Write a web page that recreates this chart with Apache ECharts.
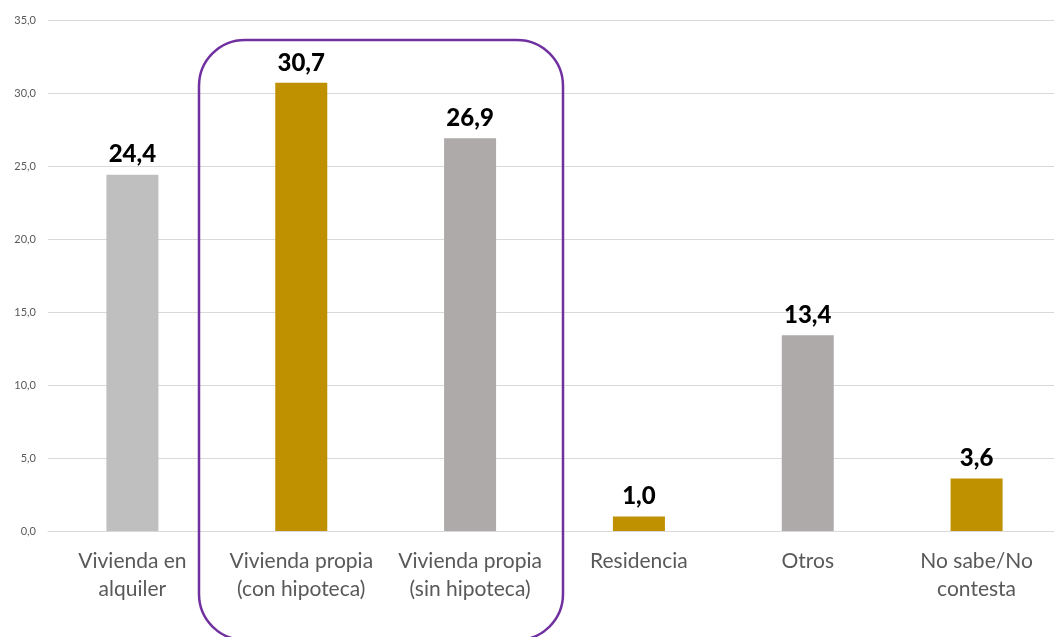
<!DOCTYPE html>
<html>
<head>
<meta charset="utf-8">
<script src="https://cdn.jsdelivr.net/npm/echarts@6/dist/echarts.min.js"></script>
<style>
  html, body { margin: 0; padding: 0; background: #fff; }
  #chart { width: 1054px; height: 637px; }
</style>
</head>
<body>
<div id="chart"></div>
<script>
const categories = [
    'Vivienda en\nalquiler',
    'Vivienda propia\n(con hipoteca)',
    'Vivienda propia\n(sin hipoteca)',
    'Residencia',
    'Otros',
    'No sabe/No\ncontesta'
];
const values = [24.4, 30.7, 26.9, 1.0, 13.4, 3.6];
const barColors = ['#bfbfbf', '#bf9000', '#aeaaaa', '#bf9000', '#aeaaaa', '#bf9000'];

const fmt = v => v.toFixed(1).replace('.', ',');

let chart = echarts.init(document.getElementById('chart'));

chart.setOption({
    animation: false,
    textStyle: { fontFamily: 'Lato' },
    grid: { left: 48, top: 20, width: 1013, bottom: 106, outerBoundsMode: 'none', containLabel: false },
    xAxis: {
        type: 'category',
        data: categories,
        axisLine: { lineStyle: { color: '#d9d9d9' } },
        axisTick: { show: false },
        axisLabel: {
            color: '#595959',
            fontSize: 21,
            lineHeight: 28,
            margin: 16,
            interval: 0
        }
    },
    yAxis: {
        type: 'value',
        min: 0,
        max: 35,
        interval: 5,
        axisLine: { show: false },
        axisTick: { show: false },
        splitLine: { lineStyle: { color: '#d9d9d9' } },
        axisLabel: {
            color: '#595959',
            fontSize: 11,
            margin: 12,
            formatter: v => fmt(v)
        }
    },
    series: [{
        type: 'bar',
        barWidth: 52,
        data: values.map((v, i) => ({ value: v, itemStyle: { color: barColors[i] } })),
        label: {
            show: true,
            position: 'top',
            distance: 8,
            color: '#000',
            fontWeight: 900,
            fontSize: 24,
            formatter: p => fmt(p.value)
        }
    }],
    graphic: [{
        type: 'rect',
        shape: { x: 199, y: 40, width: 364, height: 600, r: 46 },
        style: { fill: 'none', stroke: '#7030a0', lineWidth: 2.5 },
        z: 10
    }]
});
</script>
</body>
</html>
